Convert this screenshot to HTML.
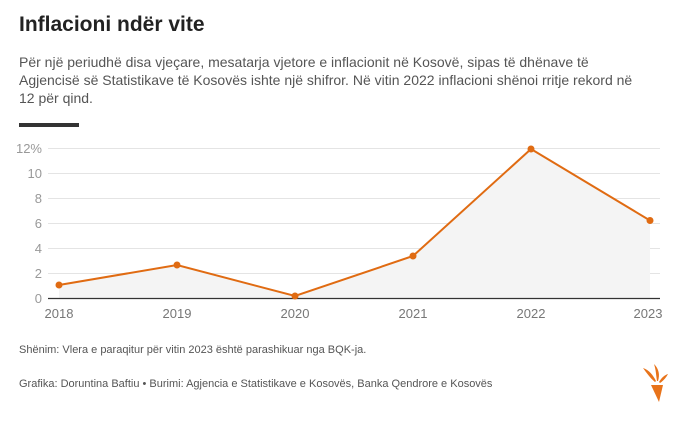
<!DOCTYPE html>
<html><head><meta charset="utf-8"><style>
body{margin:0;width:697px;height:425px;background:#fff;font-family:"Liberation Sans",sans-serif;overflow:hidden;position:relative}
.t{position:absolute;left:19px;top:13px;font-size:21px;font-weight:bold;color:#222}
.s{position:absolute;left:19px;top:53px;width:670px;font-size:14px;line-height:18px;color:#555;white-space:nowrap}
.bar{position:absolute;left:19px;top:123px;width:60px;height:4px;background:#333}
.n{position:absolute;left:19px;font-size:11px;color:#555}
</style></head><body>
<div class="t">Inflacioni ndër vite</div>
<div class="s">Për një periudhë disa vjeçare, mesatarja vjetore e inflacionit në Kosovë, sipas të dhënave të<br>Agjencisë së Statistikave të Kosovës ishte një shifror. Në vitin 2022 inflacioni shënoi rritje rekord në<br>12 për qind.</div>
<div class="bar"></div>
<svg width="697" height="425" style="position:absolute;left:0;top:0" font-family="Liberation Sans, sans-serif">
<g stroke="#e4e4e4" stroke-width="1">
<line x1="48" x2="660" y1="148.5" y2="148.5"/><line x1="48" x2="660" y1="173.5" y2="173.5"/>
<line x1="48" x2="660" y1="198.5" y2="198.5"/><line x1="48" x2="660" y1="223.5" y2="223.5"/>
<line x1="48" x2="660" y1="248.5" y2="248.5"/><line x1="48" x2="660" y1="273.5" y2="273.5"/>
</g>
<g fill="#999" font-size="13" text-anchor="end">
<text x="42" y="153">12%</text><text x="42" y="178">10</text><text x="42" y="203">8</text>
<text x="42" y="228">6</text><text x="42" y="253">4</text><text x="42" y="278">2</text><text x="42" y="303">0</text>
</g>
<polygon points="59,298 59,285 177,265 295,296 413,256 531,149 650,220.5 650,298" fill="#f4f4f4"/>
<line x1="48" x2="660" y1="298.5" y2="298.5" stroke="#333" stroke-width="1.2"/>
<polyline points="59,285 177,265 295,296 413,256 531,149 650,220.5" fill="none" stroke="#e06b12" stroke-width="2"/>
<g fill="#e06b12"><circle cx="59" cy="285" r="3.5"/><circle cx="177" cy="265" r="3.5"/><circle cx="295" cy="296" r="3.5"/><circle cx="413" cy="256" r="3.5"/><circle cx="531" cy="149" r="3.5"/><circle cx="650" cy="220.5" r="3.5"/></g>
<g fill="#777" font-size="13" text-anchor="middle">
<text x="59" y="318">2018</text><text x="177" y="318">2019</text><text x="295" y="318">2020</text>
<text x="413" y="318">2021</text><text x="531" y="318">2022</text><text x="648" y="318">2023</text>
</g>
<g fill="#e8731a">
<path d="M651,385 L663,385 L659,402 Z"/>
<path d="M655,382 C650,378 646,372 643,368 C649,370 653,375 656,381 Z"/>
<path d="M657,381 C656,375 656,370 654,364 C659,369 660,375 658,381 Z"/>
<path d="M659,382 C662,377 665,375 668,374 C666,378 663,381 660,383 Z"/>
</g>
</svg>
<div class="n" style="top:344px">Shënim: Vlera e paraqitur për vitin 2023 është parashikuar nga BQK-ja.</div>
<div class="n" style="top:378px">Grafika: Doruntina Baftiu • Burimi: Agjencia e Statistikave e Kosovës, Banka Qendrore e Kosovës</div>
</body></html>
